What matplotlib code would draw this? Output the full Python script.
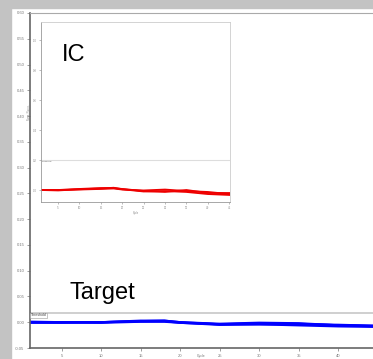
import numpy as np
import matplotlib.pyplot as plt
from matplotlib.patches import Rectangle

plt.rcParams['font.family'] = ['Liberation Sans', 'DejaVu Sans']

# main plot: target replicates (normalised fluorescence per cycle)
cycles = [1, 5, 10, 15, 18, 20, 25, 30, 35, 40, 45]
target_a = [0.000, 0.000, 0.000, 0.003, 0.003, 0.000, -0.004, -0.002, -0.003, -0.006, -0.008]
target_b = [-0.001, -0.001, 0.000, 0.002, 0.002, -0.001, -0.005, -0.004, -0.006, -0.008, -0.009]
target_c = [0.000, 0.000, -0.001, 0.001, 0.001, -0.001, -0.004, -0.004, -0.004, -0.005, -0.007]
target_d = [0.001, 0.000, 0.000, 0.002, 0.003, 0.000, -0.003, -0.001, -0.002, -0.006, -0.007]
target_threshold = 0.018
main_yticks = [-0.05, 0.00, 0.05, 0.10, 0.15, 0.20, 0.25, 0.30, 0.35, 0.40, 0.45, 0.50, 0.55, 0.60]
main_xticks = [5, 10, 15, 20, 25, 30, 35, 40]

# inset: internal control replicates
ic_cycles = [1, 5, 10, 15, 18, 20, 25, 30, 35, 40, 45]
ic_a = [0.000, 0.000, 0.007, 0.013, 0.013, 0.007, -0.007, -0.013, 0.000, -0.020, -0.020]
ic_b = [0.000, -0.003, 0.005, 0.010, 0.015, 0.005, -0.010, -0.007, -0.013, -0.027, -0.033]
ic_c = [0.000, 0.000, 0.003, 0.007, 0.010, 0.003, -0.003, 0.003, -0.007, -0.013, -0.027]
ic_threshold = 0.2
ic_yticks = [0.0, 0.2, 0.4, 0.6, 0.8, 1.0]
ic_xticks = [5, 10, 15, 20, 25, 30, 35, 40, 45]

W, H = 373, 359
fig = plt.figure(figsize=(W / 100, H / 100), dpi=100)
fig.patch.set_facecolor('white')

# grey window strips (screenshot border)
fig.patches.append(Rectangle((0, 0), 11 / W, 1, transform=fig.transFigure, color='#c3c3c3', zorder=0))
fig.patches.append(Rectangle((0, 1 - 8 / H), 1, 8 / H, transform=fig.transFigure, color='#c3c3c3', zorder=0))

ax = fig.add_axes([30 / W, (H - 348) / H, (W - 30) / W, (348 - 13) / H])
for y in [target_a, target_b, target_c, target_d]:
    ax.plot(cycles, y, color='#0000ff', lw=1.6, solid_capstyle='butt')
ax.axhline(target_threshold, color='#cccccc', lw=1.3, zorder=1)
ax.text(1.1, target_threshold - 0.001, 'Threshold', fontsize=2.5, va='top', ha='left', color='#444444',
        bbox=dict(boxstyle='square,pad=0.25', fc='white', ec='#999999', lw=0.4))
ax.set_xlim(1, 44.4)
ax.set_ylim(-0.05, 0.60)
ax.set_yticks(main_yticks)
ax.set_yticklabels(['%.2f' % v for v in main_yticks])
ax.set_xticks(main_xticks)
ax.tick_params(labelsize=3, colors='#777777', length=2, width=0.5, pad=2)
for s in ['left', 'bottom']:
    ax.spines[s].set_color('#666666')
    ax.spines[s].set_linewidth(1.2)
ax.spines['top'].set_color('#aaaaaa')
ax.spines['right'].set_visible(False)
ax.set_xlabel('Cycle', fontsize=2.5, color='#777777')
ax.xaxis.label.set_va('bottom')
ax.xaxis.set_label_coords(0.5, -9.5 / 335)
ax.set_ylabel('Norm. Fluoro.', fontsize=3, color='#777777', labelpad=2)

ax.text(70 / W, 1 - 299 / H, 'Target', transform=fig.transFigure, fontsize=17, color='black',
        ha='left', va='baseline')

# inset with the internal control
ins = fig.add_axes([41 / W, (H - 202) / H, (230 - 41) / W, (202 - 22) / H])
for y in [ic_a, ic_b, ic_c]:
    ins.plot(ic_cycles, y, color='#ee0000', lw=1.3)
ins.axhline(ic_threshold, color='#dddddd', lw=0.8, zorder=1)
ins.text(1.3, ic_threshold - 0.01, 'Threshold', fontsize=1.5, va='top', ha='left', color='#444444')
ins.set_xlim(1, 45.2)
ins.set_ylim(-0.08, 1.12)
ins.set_yticks(ic_yticks)
ins.set_xticks(ic_xticks)
ins.tick_params(labelsize=2, colors='#888888', length=1.5, width=0.4, pad=1.5)
for s in ins.spines.values():
    s.set_color('#999999')
    s.set_linewidth(0.6)
ins.spines['top'].set_color('#cccccc')
ins.spines['right'].set_color('#cccccc')
ins.set_xlabel('Cycle', fontsize=1.8, color='#888888', labelpad=0.5)
ins.set_ylabel('Norm. Fluoro.', fontsize=1.8, color='#888888', labelpad=1)
ins.text(62 / W, 1 - 61 / H, 'IC', transform=fig.transFigure, fontsize=17, color='black',
         ha='left', va='baseline')

fig.savefig('out.png', dpi=100, facecolor='white')
